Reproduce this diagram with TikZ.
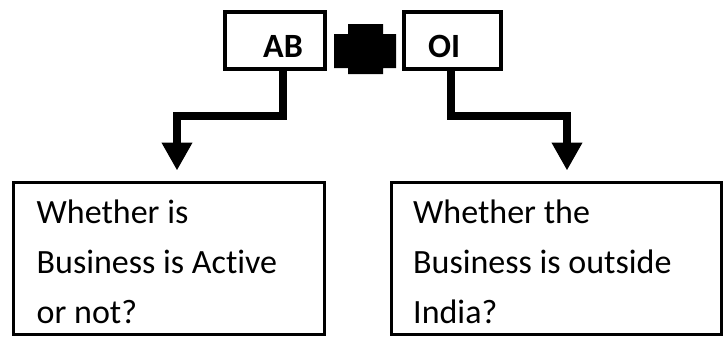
\documentclass[tikz,border=0pt]{standalone}
\usepackage{fontspec}
\setmainfont{Carlito}[RawFeature=-liga]
\usetikzlibrary{arrows.meta}
\begin{document}
\begin{tikzpicture}[x=1pt,y=-1pt,
  topbox/.style={draw=black,line width=4pt,rectangle,inner sep=0pt,minimum height=56.7pt},
  qbox/.style={draw=black,line width=3.2pt,rectangle,inner sep=0pt,minimum height=152pt},
  toplabel/.style={anchor=base west,inner sep=0pt,font=\fontsize{34}{40}\selectfont\bfseries},
  qtext/.style={anchor=north west,inner sep=0pt,align=left,font=\fontsize{34}{49.7}\selectfont},
  conn/.style={draw=black,line width=8pt,line join=miter,
    -{Triangle[length=28pt,width=29pt]}}]
\useasboundingbox (0,0) rectangle (723,338);

% top boxes
\node[topbox,minimum width=100pt] (ab) at (275.3,40.3) {};
\node[topbox,minimum width=97.6pt] (oi) at (452.5,40.3) {};
\node[toplabel] (abl) at (263,57) {AB};
\node[toplabel] (oil) at (428,57) {OI};

% black cross between them
\fill[black] (334,34) -- (348,34) -- (348,24) -- (383,24) -- (383,34) -- (396,34)
  -- (396,68) -- (383,68) -- (383,74) -- (348,74) -- (348,68) -- (334,68) -- cycle;

% question boxes
\node[qbox,minimum width=311pt] (q1) at (169,258.5) {};
\node[qbox,minimum width=330pt] (q2) at (556.5,258.5) {};
\node[qtext] (q1t) at (36.5,200) {Whether is\\Business is Active\\or not?};
\node[qtext] (q2t) at (413,200) {Whether the\\Business is outside\\India?};

% connectors
\coordinate (ltip) at (177,170.5);
\coordinate (rtip) at (567,170.5);
\draw[conn] ([xshift=7.7pt]ab.south) -- ++(0,45.7) -| (ltip);
\draw[conn] ([xshift=-1.5pt]oi.south) -- ++(0,45.7) -| (rtip);
\end{tikzpicture}
\end{document}
